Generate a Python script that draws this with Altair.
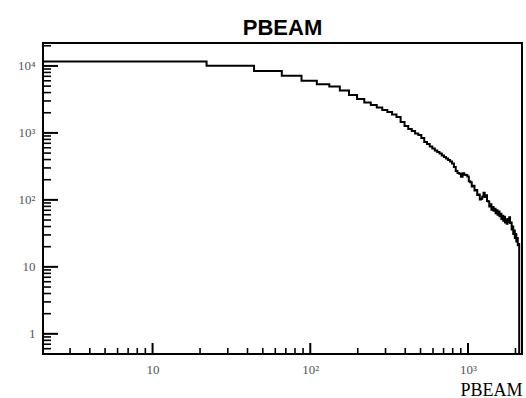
import altair as alt
import pandas as pd

# ---- data ----
title_text = "PBEAM"
x_title = "PBEAM"
bin_width = 22  # histogram bins: 100 bins from 0 to 2200
counts = [11600, 10100, 8420, 7160, 6030, 5330, 4940, 4300, 3690, 3210,
          2850, 2610, 2400, 2200, 2050, 1880, 1730, 1455, 1270, 1140,
          1070, 980, 930, 839, 731, 683, 626, 585, 546, 518,
          492, 459, 436, 414, 393, 374, 349, 309, 270, 252,
          245, 222, 250, 238, 236, 224, 190, 184, 158, 162,
          138, 141, 118, 120, 101, 104, 112, 128, 110, 117,
          96, 95, 80, 86, 71, 78, 69, 74, 63, 70,
          60, 67, 57, 62, 52, 58, 49, 56, 46, 51,
          44, 52, 47, 55, 45, 46, 36, 40, 31, 35,
          27, 31, 24, 27, 21, 22, 0, 0, 0, 0]

x_domain = [2.02, 2200]
y_domain = [0.5, 22000]

y_major = [1, 10, 100, 1000, 10000]
y_labels = ["1", "10", "10²", "10³", "10⁴"]
x_major = [10, 100, 1000]
x_labels = ["10", "10²", "10³"]
minor_mult = [2, 3, 4, 5, 6, 7, 8, 9]

# ---- derived tables ----
W, H = 479, 311

edges = [max(i * bin_width, x_domain[0]) for i in range(len(counts) + 1)]
vals = counts + [counts[-1]]
hist_df = pd.DataFrame({"x": edges, "y": [max(c, y_domain[0]) for c in vals]})

def minors(decades, lo, hi):
    out = []
    for d in decades:
        for m in minor_mult:
            v = m * d
            if lo <= v <= hi:
                out.append(v)
    return out

y_minor = minors([0.1, 1, 10, 100, 1000, 10000], *y_domain)
x_minor = minors([1, 10, 100, 1000], *x_domain)

def label_expr(values, labels):
    parts = [f"datum.value == {v} ? '{l}'" for v, l in zip(values, labels)]
    return " : ".join(parts) + " : ''"

xs = alt.Scale(type="log", domain=x_domain, nice=False)
ys = alt.Scale(type="log", domain=y_domain, nice=False)

label_font = "Liberation Serif"
label_color = "#555555"

x_axis = alt.Axis(
    values=x_major, labelExpr=label_expr(x_major, x_labels),
    ticks=False, domain=False, grid=False,
    labelFont=label_font, labelFontSize=13, labelColor=label_color,
    labelPadding=9, labelFlush=False, labelOverlap=False,
    title=x_title, titleFont=label_font, titleFontSize=18,
    titleFontWeight="normal", titleColor="black",
    titleX=W, titleY=41, titleAlign="right", titleBaseline="alphabetic")
y_axis = alt.Axis(
    values=y_major, labelExpr=label_expr(y_major, y_labels),
    ticks=False, domain=False, grid=False,
    labelFont=label_font, labelFontSize=13, labelColor=label_color,
    labelPadding=8, labelFlush=False, labelOverlap=False, title=None)

hist = alt.Chart(hist_df).mark_line(
    interpolate="step-after", color="black", strokeWidth=2, clip=True
).encode(
    x=alt.X("x:Q", scale=xs, axis=x_axis),
    y=alt.Y("y:Q", scale=ys, axis=y_axis),
)

def ytick_layer(values, length, sw):
    return alt.Chart(pd.DataFrame({"y": values})).mark_rule(
        color="black", strokeWidth=sw
    ).encode(y=alt.Y("y:Q", scale=ys, axis=y_axis),
             x=alt.value(0), x2=alt.value(length))

def xtick_layer(values, length, sw):
    return alt.Chart(pd.DataFrame({"x": values})).mark_rule(
        color="black", strokeWidth=sw
    ).encode(x=alt.X("x:Q", scale=xs, axis=x_axis),
             y=alt.value(H), y2=alt.value(H - length))

chart = alt.layer(
    hist,
    ytick_layer(y_major, 15, 2),
    ytick_layer(y_minor, 8, 1.6),
    xtick_layer(x_major, 11, 2),
    xtick_layer(x_minor, 6, 1.6),
).properties(
    width=W, height=H,
    title=alt.TitleParams(title_text, font="Liberation Sans", fontSize=22,
                          fontWeight="bold", color="black", anchor="middle",
                          offset=3),
    autosize=alt.AutoSizeParams(type="none"),
    padding={"left": 43, "top": 43, "right": 4, "bottom": 44},
).configure_view(stroke="black", strokeWidth=2)

chart.save("out.html", embed_options={"renderer": "svg", "actions": False})
